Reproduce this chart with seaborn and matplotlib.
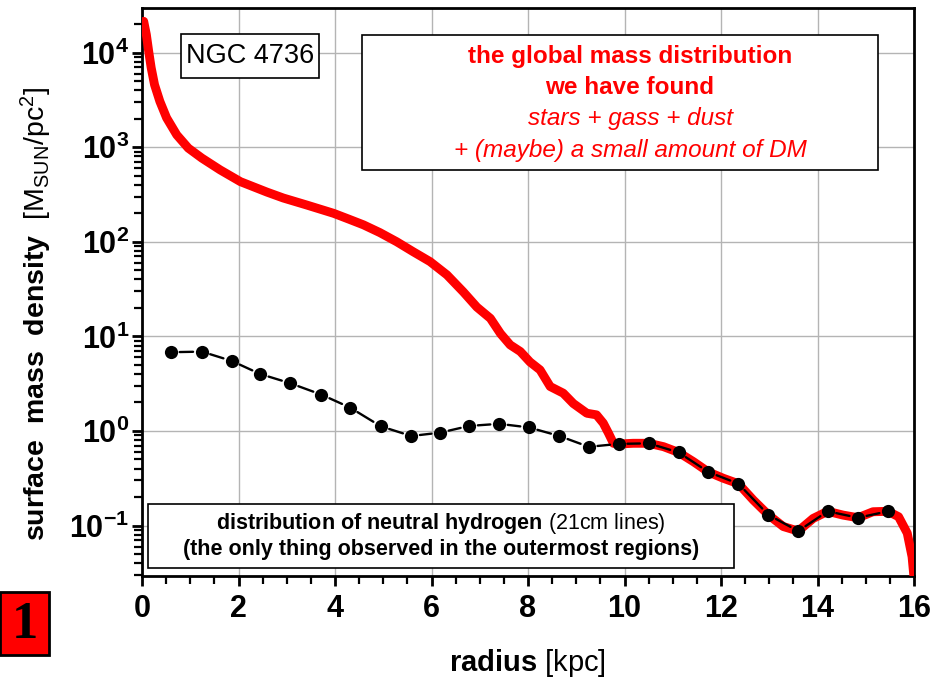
import matplotlib
matplotlib.use("Agg")
import matplotlib.pyplot as plt
from matplotlib.patches import Rectangle
from matplotlib.ticker import LogLocator, MultipleLocator, NullFormatter, FixedLocator
import pandas as pd
import seaborn as sns

# Global mass distribution (stars + gas + dust), radius in kpc, density in M_sun/pc^2
radius_total = [0.035, 0.09, 0.14, 0.19, 0.26, 0.37, 0.51, 0.72, 0.96, 1.24, 1.62,
                2.04, 2.59, 2.93, 3.41, 3.97, 4.28, 4.59, 4.93, 5.28, 5.62, 5.97,
                6.32, 6.66, 6.94, 7.22, 7.43, 7.63, 7.84, 8.04, 8.25, 8.46, 8.73,
                8.94, 9.22, 9.42, 9.56, 9.67, 9.77, 9.87, 10.18, 10.50, 10.81,
                11.12, 11.43, 11.74, 12.05, 12.36, 12.67, 12.98, 13.29, 13.60,
                13.91, 14.21, 14.53, 14.84, 15.15, 15.46, 15.68, 15.86, 15.96, 16.00]
density_total = [21400, 15500, 10200, 6920, 4570, 3050, 2040, 1350, 977, 767, 575,
                 432, 335, 290, 245, 200, 174, 151, 125, 100, 78.5, 61.7,
                 44.7, 29.5, 20.4, 15.5, 10.7, 8.13, 6.92, 5.37, 4.42, 2.95, 2.51,
                 1.95, 1.54, 1.48, 1.21, 0.944, 0.741, 0.728, 0.741, 0.741, 0.682,
                 0.594, 0.473, 0.368, 0.316, 0.277, 0.186, 0.130, 0.0977, 0.0875,
                 0.119, 0.1415, 0.129, 0.121, 0.140, 0.1415, 0.124, 0.0832, 0.0468,
                 0.0282]

# Neutral hydrogen (21 cm) surface density
radius_hi = [0.60, 1.24, 1.86, 2.45, 3.07, 3.72, 4.31, 4.95, 5.58, 6.18, 6.78,
             7.40, 8.02, 8.65, 9.26, 9.88, 10.50, 11.12, 11.74, 12.36, 12.98,
             13.60, 14.21, 14.84, 15.46]
density_hi = [6.8, 6.9, 5.5, 4.0, 3.2, 2.42, 1.77, 1.12, 0.885, 0.96, 1.13,
              1.19, 1.09, 0.885, 0.68, 0.73, 0.74, 0.594, 0.368, 0.277, 0.130,
              0.0875, 0.1415, 0.121, 0.1415]

x_ticks = [0, 2, 4, 6, 8, 10, 12, 14, 16]
x_tick_labels = ["0", "2", "4", "6", "8", "10", "12", "14", "16"]
y_ticks = [0.1, 1, 10, 100, 1000, 10000]
y_tick_labels = [r"$\mathbf{10^{-1}}$", r"$\mathbf{10^{0}}$", r"$\mathbf{10^{1}}$",
                 r"$\mathbf{10^{2}}$", r"$\mathbf{10^{3}}$", r"$\mathbf{10^{4}}$"]

sns.set_theme(style="ticks")
plt.rcParams["font.family"] = ["Liberation Sans", "DejaVu Sans"]
plt.rcParams["mathtext.fontset"] = "custom"
plt.rcParams["mathtext.rm"] = "Liberation Sans"
plt.rcParams["mathtext.it"] = "Liberation Sans:italic"
plt.rcParams["mathtext.bf"] = "Liberation Sans:bold"
for key in ["text.color", "axes.labelcolor", "xtick.color", "ytick.color",
            "xtick.labelcolor", "ytick.labelcolor"]:
    plt.rcParams[key] = "black"

W, H = 932, 681
fig = plt.figure(figsize=(W / 100, H / 100), dpi=100)
fig.patch.set_facecolor("white")
ax = fig.add_axes([142 / W, 1 - 576 / H, (914 - 142) / W, (576 - 8) / H])
ax.set_facecolor("white")

total = pd.DataFrame({"radius": radius_total, "density": density_total})
hi = pd.DataFrame({"radius": radius_hi, "density": density_hi})

sns.lineplot(data=total, x="radius", y="density", ax=ax, sort=False,
             color="#ff0000", lw=6.4, solid_joinstyle="round",
             solid_capstyle="round", zorder=3)
# HI points: markers, joined by short segments that stop just before each dot
sns.lineplot(data=hi, x="radius", y="density", ax=ax, sort=False,
             color="black", linestyle="none", marker="o", markersize=9.5,
             markeredgewidth=0, zorder=5)
for i in range(len(radius_hi) - 1):
    ax.annotate("", xy=(radius_hi[i + 1], density_hi[i + 1]),
                xytext=(radius_hi[i], density_hi[i]),
                arrowprops=dict(arrowstyle="-", color="black", lw=1.7,
                                shrinkA=6.3, shrinkB=6.3), zorder=4)

ax.set_yscale("log")
ax.set_xlim(0, 16)
ax.set_ylim(0.0293, 29600)

ax.xaxis.set_major_locator(FixedLocator(x_ticks))
ax.set_xticklabels(x_tick_labels)
ax.xaxis.set_minor_locator(MultipleLocator(0.5))
ax.yaxis.set_major_locator(FixedLocator(y_ticks))
ax.set_yticklabels(y_tick_labels)
ax.yaxis.set_minor_locator(LogLocator(base=10, subs=range(2, 10), numticks=20))
ax.yaxis.set_minor_formatter(NullFormatter())

ax.grid(True, which="major", color="#b4b4b4", lw=1.0, zorder=0)
ax.set_axisbelow(True)
for side in ["left", "right", "top", "bottom"]:
    ax.spines[side].set_visible(True)
    ax.spines[side].set_linewidth(2.0)
    ax.spines[side].set_color("black")

ax.tick_params(axis="both", which="major", direction="out", length=7, width=2,
               color="black", labelcolor="black", labelsize=22, pad=4,
               top=False, right=False)
ax.tick_params(axis="both", which="minor", direction="out", length=5.5, width=1.6,
               color="black", top=False, right=False)
for lab in ax.get_xticklabels():
    lab.set_fontweight("bold")
ax.tick_params(axis="x", which="major", pad=6)
ax.tick_params(axis="y", which="major", pad=2)
ax.set_xlabel("")
ax.set_ylabel("")

# axis titles
fig.text(36 / W, 1 - 314 / H,
         r"$\mathbf{surface\ \ mass\ \ density}$  [M$_{\mathrm{SUN}}$/pc$^{2}$]",
         rotation=90, ha="center", va="center", fontsize=20.5, color="black")
fig.text(527 / W, 1 - 663 / H, r"$\mathbf{radius}$ [kpc]",
         ha="center", va="center", fontsize=21, color="black")


def box(x0, y0, x1, y1, face="white", lw=1.2):
    fig.add_artist(Rectangle((x0 / W, 1 - y1 / H), (x1 - x0) / W, (y1 - y0) / H,
                             transform=fig.transFigure, facecolor=face,
                             edgecolor="black", lw=lw, zorder=5))


# galaxy name
box(181, 34, 319, 78)
fig.text(250 / W, 1 - 56 / H, "NGC 4736", ha="center", va="center",
         fontsize=19.5, color="black", zorder=6)

# description of the red curve
box(362, 35, 878, 170)
red_lines = [("the global mass distribution", "bold", "normal", 57),
             ("we have found", "bold", "normal", 88),
             ("stars + gass + dust", "normal", "italic", 119),
             ("+ (maybe) a small amount of DM", "normal", "italic", 150)]
for txt, wt, st, yy in red_lines:
    fig.text(630 / W, 1 - yy / H, txt, ha="center", va="center", fontsize=17.5,
             fontweight=wt, fontstyle=st, color="#ff0000", zorder=6)

# description of the black points
box(148, 504, 734, 568)
fig.text(441 / W, 1 - 523 / H,
         r"$\mathbf{distribution\ of\ neutral\ hydrogen}$ (21cm lines)",
         ha="center", va="center", fontsize=15.5, color="black", zorder=6)
fig.text(441 / W, 1 - 550 / H,
         "(the only thing observed in the outermost regions)",
         ha="center", va="center", fontsize=15.5, fontweight="bold",
         color="black", zorder=6)

# panel number
box(0, 592, 49, 655, face="#ff0000", lw=2.0)
fig.text(25 / W, 1 - 625 / H, "1", ha="center", va="center", fontsize=38,
         fontweight="bold", family=["Liberation Serif", "DejaVu Serif"],
         color="black", zorder=6)

fig.savefig("out.png", dpi=100, facecolor="white")
